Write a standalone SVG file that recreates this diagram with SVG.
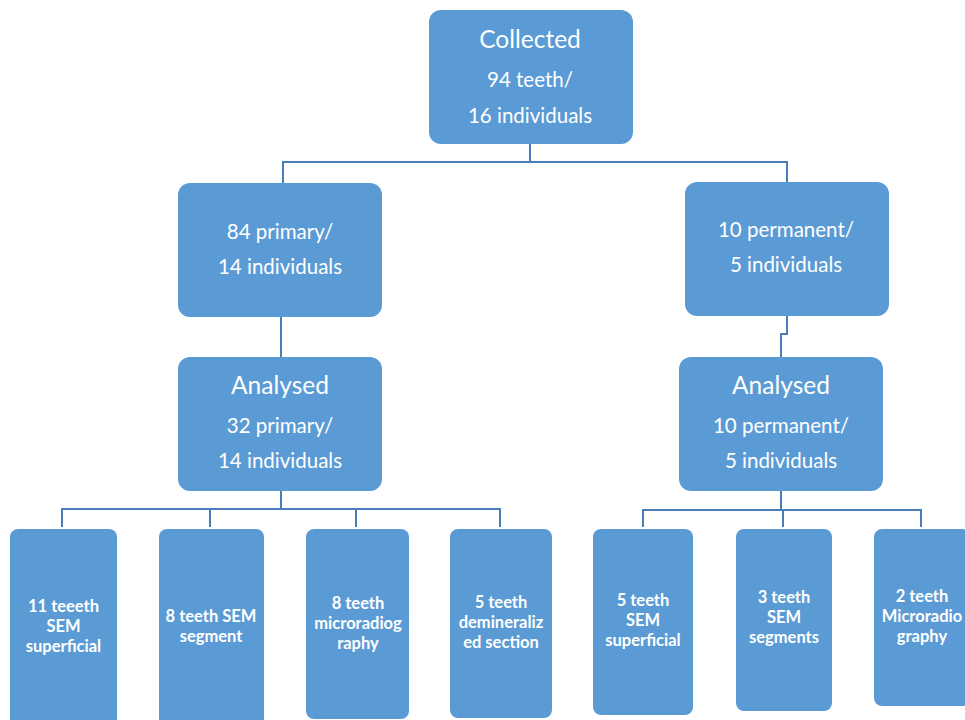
<svg xmlns="http://www.w3.org/2000/svg" width="965" height="720" viewBox="0 0 965 720">
<style>
.box{fill:#5B9BD5;}
.t{fill:#FFFFFF;font-family:Lato,"Open Sans","Liberation Sans",sans-serif;text-anchor:middle;}
.big{font-size:24.5px;}
.mid{font-size:20.5px;}
.sm{font-size:16.5px;font-weight:bold;}
.conn{fill:none;stroke:#4A7EBB;stroke-width:2;}
</style>
<rect width="965" height="720" fill="#FFFFFF"/>
<g id="connectors">
<path class="conn" d="M530,144 V162 M283,183 V162 H787 V182"/>
<path class="conn" d="M281,317 V357"/>
<path class="conn" d="M787,316 V334 H781 V357"/>
<path class="conn" d="M281,491 V509 M62,527 V509 H500 V527 M210,509 V527 M356,509 V527"/>
<path class="conn" d="M781,491 V510 M643,527 V510 H921 V527 M783,510 V527"/>
</g>
<g id="collected">
<rect class="box" x="429" y="10" width="204" height="134" rx="12"/>
<text class="t big" x="530" y="48">Collected</text>
<text class="t mid" x="530" y="87">94 teeth/</text>
<text class="t mid" x="530" y="123">16 individuals</text>
</g>
<g id="primary">
<rect class="box" x="178" y="183" width="204" height="134" rx="12"/>
<text class="t mid" x="280" y="239">84 primary/</text>
<text class="t mid" x="280" y="274">14 individuals</text>
</g>
<g id="permanent">
<rect class="box" x="685" y="182" width="204" height="134" rx="12"/>
<text class="t mid" x="786" y="237">10 permanent/</text>
<text class="t mid" x="786" y="272">5 individuals</text>
</g>
<g id="analysed-primary">
<rect class="box" x="178" y="357" width="204" height="134" rx="12"/>
<text class="t big" x="280" y="394">Analysed</text>
<text class="t mid" x="280" y="433">32 primary/</text>
<text class="t mid" x="280" y="468">14 individuals</text>
</g>
<g id="analysed-permanent">
<rect class="box" x="679" y="357" width="204" height="134" rx="12"/>
<text class="t big" x="781" y="394">Analysed</text>
<text class="t mid" x="781" y="433">10 permanent/</text>
<text class="t mid" x="781" y="468">5 individuals</text>
</g>
<g id="b1">
<rect class="box" x="10" y="529" width="107" height="200" rx="8"/>
<text class="t sm" x="63.5" y="612">11 teeeth</text>
<text class="t sm" x="63.5" y="632">SEM</text>
<text class="t sm" x="63.5" y="652">superficial</text>
</g>
<g id="b2">
<rect class="box" x="159" y="529" width="105" height="200" rx="8"/>
<text class="t sm" x="211" y="622">8 teeth SEM</text>
<text class="t sm" x="211" y="642">segment</text>
</g>
<g id="b3">
<rect class="box" x="306" y="529" width="103" height="190" rx="8"/>
<text class="t sm" x="358" y="609">8 teeth</text>
<text class="t sm" x="358" y="629">microradiog</text>
<text class="t sm" x="358" y="649">raphy</text>
</g>
<g id="b4">
<rect class="box" x="450" y="529" width="102" height="189" rx="8"/>
<text class="t sm" x="501" y="608">5 teeth</text>
<text class="t sm" x="501" y="628">demineraliz</text>
<text class="t sm" x="501" y="648">ed section</text>
</g>
<g id="b5">
<rect class="box" x="593" y="529" width="100" height="186" rx="8"/>
<text class="t sm" x="643" y="606">5 teeth</text>
<text class="t sm" x="643" y="626">SEM</text>
<text class="t sm" x="643" y="646">superficial</text>
</g>
<g id="b6">
<rect class="box" x="736" y="529" width="96" height="182" rx="8"/>
<text class="t sm" x="784" y="603">3 teeth</text>
<text class="t sm" x="784" y="623">SEM</text>
<text class="t sm" x="784" y="643">segments</text>
</g>
<g id="b7">
<rect class="box" x="874" y="529" width="96" height="177" rx="8"/>
<text class="t sm" x="922" y="602">2 teeth</text>
<text class="t sm" x="922" y="622">Microradio</text>
<text class="t sm" x="922" y="642">graphy</text>
</g>
</svg>
